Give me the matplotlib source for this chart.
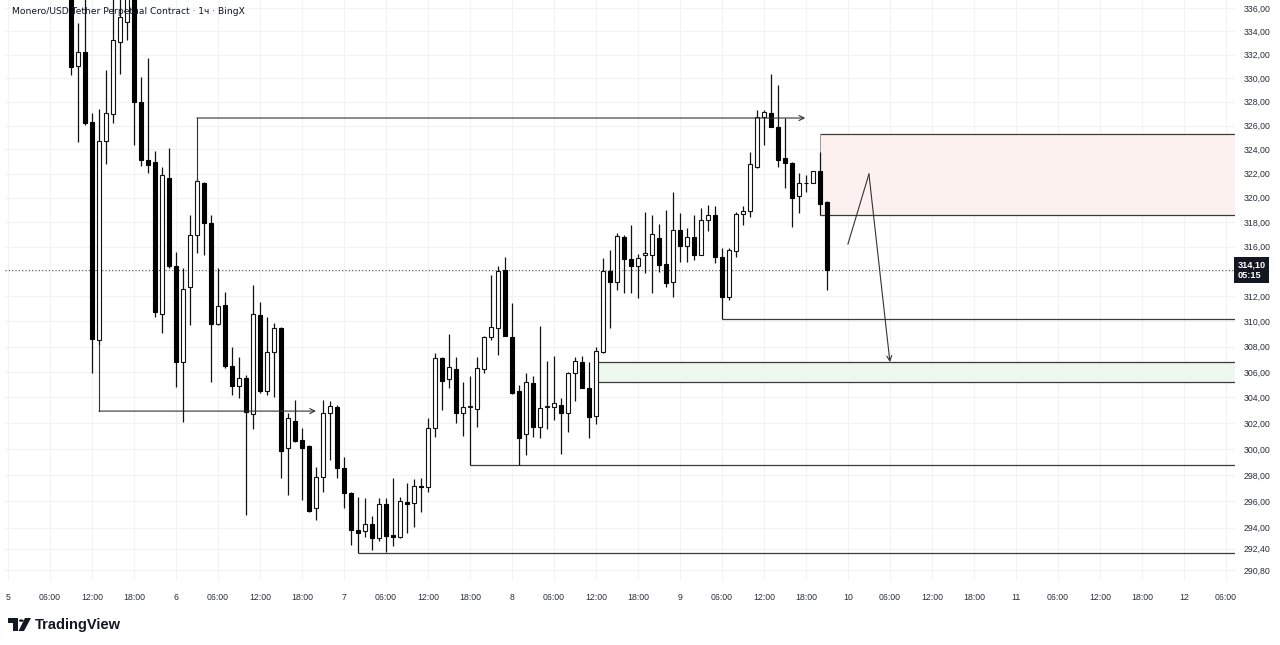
import numpy as np
import matplotlib
matplotlib.use("Agg")
import matplotlib.pyplot as plt
import matplotlib.transforms as mtrans
from matplotlib.ticker import FixedLocator, NullLocator
from matplotlib.patches import Rectangle, Polygon, Circle

# ---------------- data ----------------
start_hour = 9  # first candle: day 5, 09:00 (hours counted from day 5 00:00)

opens = [
    338.5, 331.03, 332.22, 326.29, 308.51, 324.71, 326.96, 333.08, 334.80, 337.5,
    327.98, 323.12, 322.95, 310.58, 321.63, 314.43, 306.77, 312.74, 316.96, 321.22,
    317.93, 309.78, 311.30, 306.45, 304.89, 305.51, 302.70, 310.50, 304.49, 307.56,
    309.47, 300.06, 302.15, 300.68, 300.22, 295.48, 297.84, 302.78, 303.24, 298.52,
    296.61, 293.81, 293.73, 294.26, 293.20, 295.78, 293.43, 293.28, 295.93, 295.85,
    297.15, 297.07, 301.61, 307.09, 305.44, 306.22, 302.78, 303.24, 303.09, 306.22,
    308.75, 309.47, 314.11, 308.75, 304.49, 301.14, 305.12, 301.69, 303.24, 303.24,
    303.40, 302.78, 305.90, 306.77, 304.73, 302.54, 307.56, 314.03, 313.15, 316.80,
    315.00, 314.43, 315.33, 315.33, 316.71, 314.59, 313.15, 317.36, 316.06, 316.80,
    315.33, 318.18, 318.59, 315.16, 311.94, 315.65, 318.67, 318.92, 322.54, 326.71,
    327.05, 325.88, 323.29, 322.87, 320.15, 321.22, 321.22, 322.21, 319.66]

highs = [
    340.0, 334.71, 337.5, 327.05, 327.38, 330.69, 337.5, 338.0, 339.0, 339.5,
    330.10, 331.71, 323.87, 322.54, 324.12, 315.57, 314.27, 318.59, 321.63, 321.30,
    318.59, 314.27, 312.34, 307.96, 307.17, 305.75, 312.90, 311.54, 310.34, 309.86,
    309.55, 302.78, 303.79, 301.61, 300.30, 298.60, 303.79, 303.71, 303.40, 299.37,
    296.69, 296.31, 296.23, 294.86, 296.23, 296.23, 297.76, 296.31, 297.38, 297.68,
    297.76, 302.39, 307.48, 307.17, 309.00, 307.17, 305.20, 305.67, 307.17, 308.80,
    313.71, 314.43, 315.16, 311.46, 304.96, 305.90, 305.67, 309.63, 306.85, 307.25,
    303.95, 305.95, 307.17, 307.25, 306.77, 307.96, 315.08, 315.73, 317.12, 316.96,
    317.77, 315.41, 318.84, 318.59, 317.85, 319.00, 320.48, 318.75, 317.53, 318.59,
    319.16, 319.41, 319.33, 315.89, 315.89, 318.84, 319.33, 323.79, 327.30, 327.30,
    330.35, 329.41, 326.63, 322.95, 322.04, 321.88, 322.25, 323.79, 319.70]

lows = [
    330.27, 324.62, 326.04, 305.90, 308.12, 322.79, 326.21, 330.35, 333.25, 324.37,
    322.62, 322.04, 310.34, 309.07, 314.27, 304.81, 302.07, 309.70, 315.49, 315.33,
    305.20, 309.70, 306.30, 304.18, 303.95, 294.94, 301.54, 304.34, 304.18, 304.02,
    297.76, 296.46, 300.52, 296.08, 295.17, 294.56, 296.69, 299.14, 297.76, 295.48,
    292.68, 292.08, 293.28, 292.30, 292.98, 292.15, 292.60, 293.20, 293.58, 294.03,
    295.17, 296.69, 300.91, 303.01, 304.73, 302.00, 300.99, 298.76, 301.69, 305.90,
    308.51, 307.33, 308.80, 304.30, 298.76, 299.53, 300.91, 300.83, 301.54, 302.23,
    299.60, 301.30, 303.71, 304.70, 300.83, 301.92, 307.48, 309.47, 312.50, 312.26,
    312.26, 311.86, 313.87, 312.26, 313.95, 312.74, 311.94, 314.76, 314.76, 314.92,
    315.30, 317.28, 314.68, 310.18, 311.70, 315.16, 317.77, 318.42, 322.50, 324.37,
    325.85, 322.54, 320.81, 317.61, 318.75, 320.48, 321.18, 318.59, 312.50]

closes = [
    330.94, 332.22, 326.21, 308.59, 324.71, 327.05, 333.25, 335.23, 337.5, 327.98,
    323.12, 322.70, 310.74, 321.88, 314.43, 306.77, 312.58, 316.96, 321.39, 317.93,
    309.78, 311.22, 306.45, 304.89, 305.51, 302.85, 310.58, 304.49, 307.56, 309.47,
    299.83, 302.39, 300.60, 300.06, 295.24, 297.84, 302.78, 303.32, 298.52, 296.61,
    293.81, 293.58, 294.26, 293.20, 295.78, 293.35, 293.28, 296.00, 295.78, 297.15,
    297.07, 301.61, 307.09, 305.28, 306.38, 302.78, 303.24, 303.32, 306.30, 308.75,
    309.54, 314.03, 308.83, 304.34, 300.83, 305.20, 301.69, 303.17, 303.32, 303.55,
    302.78, 305.90, 306.85, 304.73, 302.47, 307.64, 314.03, 313.15, 316.88, 315.00,
    314.43, 315.08, 315.49, 317.04, 314.51, 313.07, 317.36, 316.06, 316.80, 315.33,
    318.18, 318.59, 315.16, 311.94, 315.73, 318.67, 318.92, 322.79, 326.71, 327.13,
    325.88, 323.12, 322.87, 319.98, 321.22, 321.20, 322.21, 319.49, 314.10]

price_ticks = [336, 334, 332, 330, 328, 326, 324, 322, 320, 318, 316, 312,
               310, 308, 306, 304, 302, 300, 298, 296, 294, 292.4, 290.8]
grid_prices = [336, 334, 332, 330, 328, 326, 324, 322, 320, 318, 316, 314, 312,
               310, 308, 306, 304, 302, 300, 298, 296, 294, 292.4, 290.8]
day_names = {0: "5", 24: "6", 48: "7", 72: "8", 96: "9", 120: "10", 144: "11", 168: "12"}
time_ticks = list(range(0, 175, 6))

last_price = 314.10
countdown = "05:15"
title = "Monero/USD Tether Perpetual Contract · 1ч · BingX"

# drawings (hours from day 5 00:00, prices)
red_zone_start, red_zone_low, red_zone_high = 116, 318.59, 325.30
green_zone_start, green_zone_low, green_zone_high = 84, 305.20, 306.77
level_starts = [102, 66, 50]
level_prices = [310.18, 298.76, 292.08]
top_arrow_hours = [27, 27, 113.9]
top_arrow_prices = [321.39, 326.63, 326.63]
bottom_arrow_hours = [13, 13, 44]
bottom_arrow_prices = [308.12, 302.93, 302.93]
proj_hours = [120, 123, 126]
proj_prices = [316.22, 321.96, 306.77]

# ---------------- figure ----------------
W, H = 1280, 645
fig = plt.figure(figsize=(W / 100, H / 100), dpi=100)
fig.patch.set_facecolor("white")
ax = fig.add_axes([5 / W, 65 / H, 1230 / W, 580 / H])
ax.set_facecolor("white")

x_left, x_right = -0.43, 175.3
ax.set_yscale("log")
ax.set_xlim(x_left, x_right)
ax.set_ylim(290.06, 336.69)

FONT = "Liberation Sans"
txt_col = "#2a2e39"

# grid
for t in time_ticks:
    ax.axvline(t, color="#f1f2f5", lw=0.8, zorder=0)
for p in grid_prices:
    ax.axhline(p, color="#f1f2f5", lw=0.8, zorder=0)

# zones
ax.add_patch(Rectangle((red_zone_start, red_zone_low), x_right - red_zone_start,
                       red_zone_high - red_zone_low, facecolor="#fdf1f0",
                       edgecolor="none", zorder=1))
ax.hlines([red_zone_low, red_zone_high], red_zone_start, x_right, color="#3a3a3a", lw=0.9, zorder=1.5)
ax.vlines(red_zone_start, red_zone_low, red_zone_high, color="#9a9a9a", lw=0.7, zorder=1.5)

ax.add_patch(Rectangle((green_zone_start, green_zone_low), x_right - green_zone_start,
                       green_zone_high - green_zone_low, facecolor="#eef7ee",
                       edgecolor="none", zorder=1))
ax.hlines([green_zone_low, green_zone_high], green_zone_start, x_right, color="#3a3a3a", lw=0.9, zorder=1.5)

# horizontal levels
for s, p in zip(level_starts, level_prices):
    ax.hlines(p, s, x_right, color="#3a3a3a", lw=0.9, zorder=1.5)

# last price dotted line
ax.axhline(last_price, color="#555555", lw=0.8, ls=(0, (1, 2)), zorder=1.5)

# candles
hours = np.arange(start_hour, start_hour + len(opens))
o = np.array(opens); h = np.array(highs); l = np.array(lows); c = np.array(closes)
up = c >= o
ax.vlines(hours, l, h, color="#111111", lw=0.9, zorder=2)
bottoms = np.minimum(o, c)
heights = np.maximum(np.abs(c - o), 0.06)
ax.bar(hours[up], heights[up], bottom=bottoms[up], width=0.66,
       facecolor="white", edgecolor="#111111", linewidth=0.8, zorder=3)
ax.bar(hours[~up], heights[~up], bottom=bottoms[~up], width=0.66,
       facecolor="#000000", edgecolor="#000000", linewidth=0.8, zorder=3)

# arrows / drawings
def path_arrow(xs, ys):
    ax.plot(xs[:-1], ys[:-1], color="#333333", lw=0.8, zorder=4)
    ax.annotate("", xy=(xs[-1], ys[-1]), xytext=(xs[-2], ys[-2]),
                arrowprops=dict(arrowstyle="->", color="#333333", lw=0.8,
                                shrinkA=0, shrinkB=0, mutation_scale=9), zorder=4)

path_arrow(top_arrow_hours, top_arrow_prices)
path_arrow(bottom_arrow_hours, bottom_arrow_prices)
path_arrow(proj_hours, proj_prices)

# axes styling
for sp in ax.spines.values():
    sp.set_visible(False)
ax.yaxis.tick_right()
ax.yaxis.set_major_locator(FixedLocator(price_ticks))
ax.yaxis.set_minor_locator(NullLocator())
ax.set_yticklabels([f"{p:.2f}".replace(".", ",") for p in price_ticks])
ax.xaxis.set_major_locator(FixedLocator(time_ticks))
ax.xaxis.set_minor_locator(NullLocator())
ax.set_xticklabels([day_names.get(t, f"{t % 24:02d}:00") for t in time_ticks])
ax.tick_params(axis="y", length=0, pad=6, labelsize=6.3, labelcolor=txt_col)
ax.tick_params(axis="x", length=0, pad=9, labelsize=6.3, labelcolor=txt_col)
for lab in ax.get_xticklabels() + ax.get_yticklabels():
    lab.set_fontfamily(FONT)

# current price label
blend = mtrans.blended_transform_factory(ax.transAxes, ax.transData)
ax.text(1.002, last_price, f"{last_price:.2f}".replace(".", ",") + "\n" + countdown,
        transform=blend, ha="left", va="center", fontsize=6.6, color="white",
        family=FONT, fontweight="bold", linespacing=1.1,
        bbox=dict(boxstyle="square,pad=0.4", fc="#131722", ec="none"), zorder=6)

# title
fig.text(12 / W, 1 - 11 / H, title, ha="left", va="center", fontsize=6.6,
         color="#131722", family=["DejaVu Sans"], zorder=10)

# TradingView logo
def P(x, y):
    return (x / W, 1 - y / H)

tf = fig.transFigure
fig.patches.append(Polygon([P(8, 618), P(18, 618), P(18, 631), P(13, 631), P(13, 623), P(8, 623)],
                           closed=True, fc="#131722", ec="none", transform=tf))
fig.patches.append(Circle(P(21.3, 620.6), 2.4 / W, fc="#131722", ec="none", transform=tf))
fig.patches.append(Polygon([P(25, 618), P(31, 618), P(24, 631), P(18.5, 631)],
                           closed=True, fc="#131722", ec="none", transform=tf))
fig.text(35 / W, 1 - 624.5 / H, "TradingView", ha="left", va="center", fontsize=10.5,
         fontweight="bold", color="#131722", family=FONT)

fig.savefig("out.png", dpi=100, facecolor="white")
